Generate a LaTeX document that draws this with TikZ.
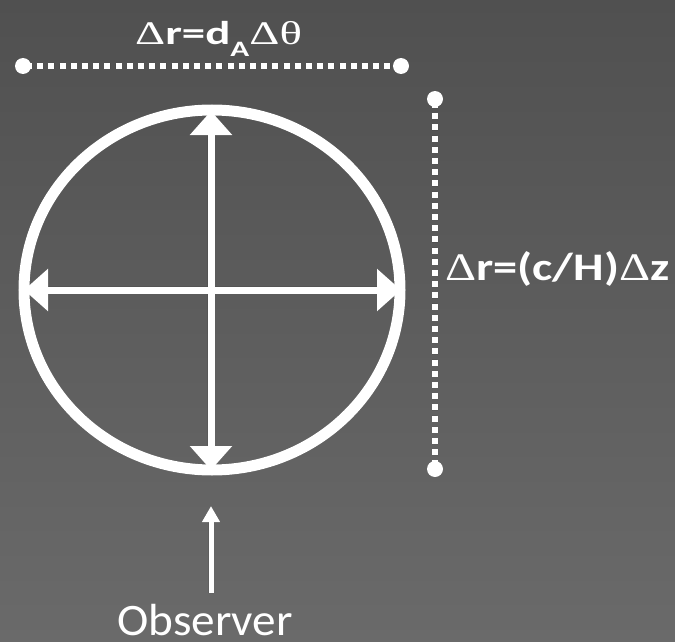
\documentclass[tikz,border=0pt]{standalone}
\usepackage{fontspec}
\setmainfont{Carlito}
\newfontfamily\grk{Liberation Serif}
\usetikzlibrary{arrows.meta}
\definecolor{bgtop}{RGB}{80,80,80}
\definecolor{bgbot}{RGB}{106,106,106}
\colorlet{fg}{white}
\begin{document}
\begin{tikzpicture}[x=1pt,y=-1pt,
  ring/.style={draw=fg,line width=11pt},
  bigarrow/.style={draw=fg,line width=7pt,{Triangle[length=24pt,width=41pt]}-{Triangle[length=24pt,width=41pt]}},
  obsarrow/.style={draw=fg,line width=5pt,-{Triangle[length=16pt,width=17pt]}},
  dotline/.style={draw=fg,line width=6pt,dash pattern=on 6pt off 5.2pt,dash phase=-3pt},
  enddot/.style={fill=fg},
  lbl/.style={text=fg,inner sep=0pt,anchor=base west}]
\shade[top color=bgtop,bottom color=bgbot] (0,0) rectangle (675,642);
\useasboundingbox (0,0) rectangle (675,642);
\coordinate (c) at (212,290);
\coordinate (vt) at (211,111);
\coordinate (vb) at (211,470);
\coordinate (hl) at (24,290);
\coordinate (hr) at (401,290);
\coordinate (ha) at (23,66);
\coordinate (hb) at (401,66);
\coordinate (va) at (435,99);
\coordinate (vbb) at (435,469);
\coordinate (oa) at (211,593);
\coordinate (ob) at (211,506);
\newcommand\drawscene{%
  \draw[ring] (c) ellipse [x radius=188, y radius=180];
  \draw[bigarrow] (vt) -- (vb);
  \draw[bigarrow] (hl) -- (hr);
  \draw[dotline] (ha) -- (hb);
  \fill[enddot] (ha) circle (8);
  \fill[enddot] (hb) circle (8);
  \draw[dotline] (va) -- (vbb);
  \fill[enddot] (va) circle (8);
  \fill[enddot] (vbb) circle (8);
  \draw[obsarrow] (oa) -- (ob);
}
% soft shadow
\begin{scope}[transparency group,opacity=0.22,shift={(2,3)}]
  \colorlet{fg}{black}
  \drawscene
\end{scope}
% main drawing
\drawscene
\node[lbl,font=\fontsize{33}{33}\selectfont\bfseries] (tl) at (135,45)
  {\scalebox{1.42}[1]{{\grk\mdseries Δ}r=d\raisebox{-12pt}{\fontsize{22}{22}\selectfont A}{\grk\mdseries Δθ}}};
\node[lbl,font=\fontsize{39}{39}\selectfont\bfseries] (rl) at (445,280)
  {\scalebox{1.24}[1]{{\grk\mdseries Δ}r=(c/H){\grk\mdseries Δ}z}};
\node[lbl,font=\fontsize{45}{45}\selectfont,text depth=0pt] (obs) at (117,635)
  {\scalebox{1.05}[1]{Observer}};
\end{tikzpicture}
\end{document}
